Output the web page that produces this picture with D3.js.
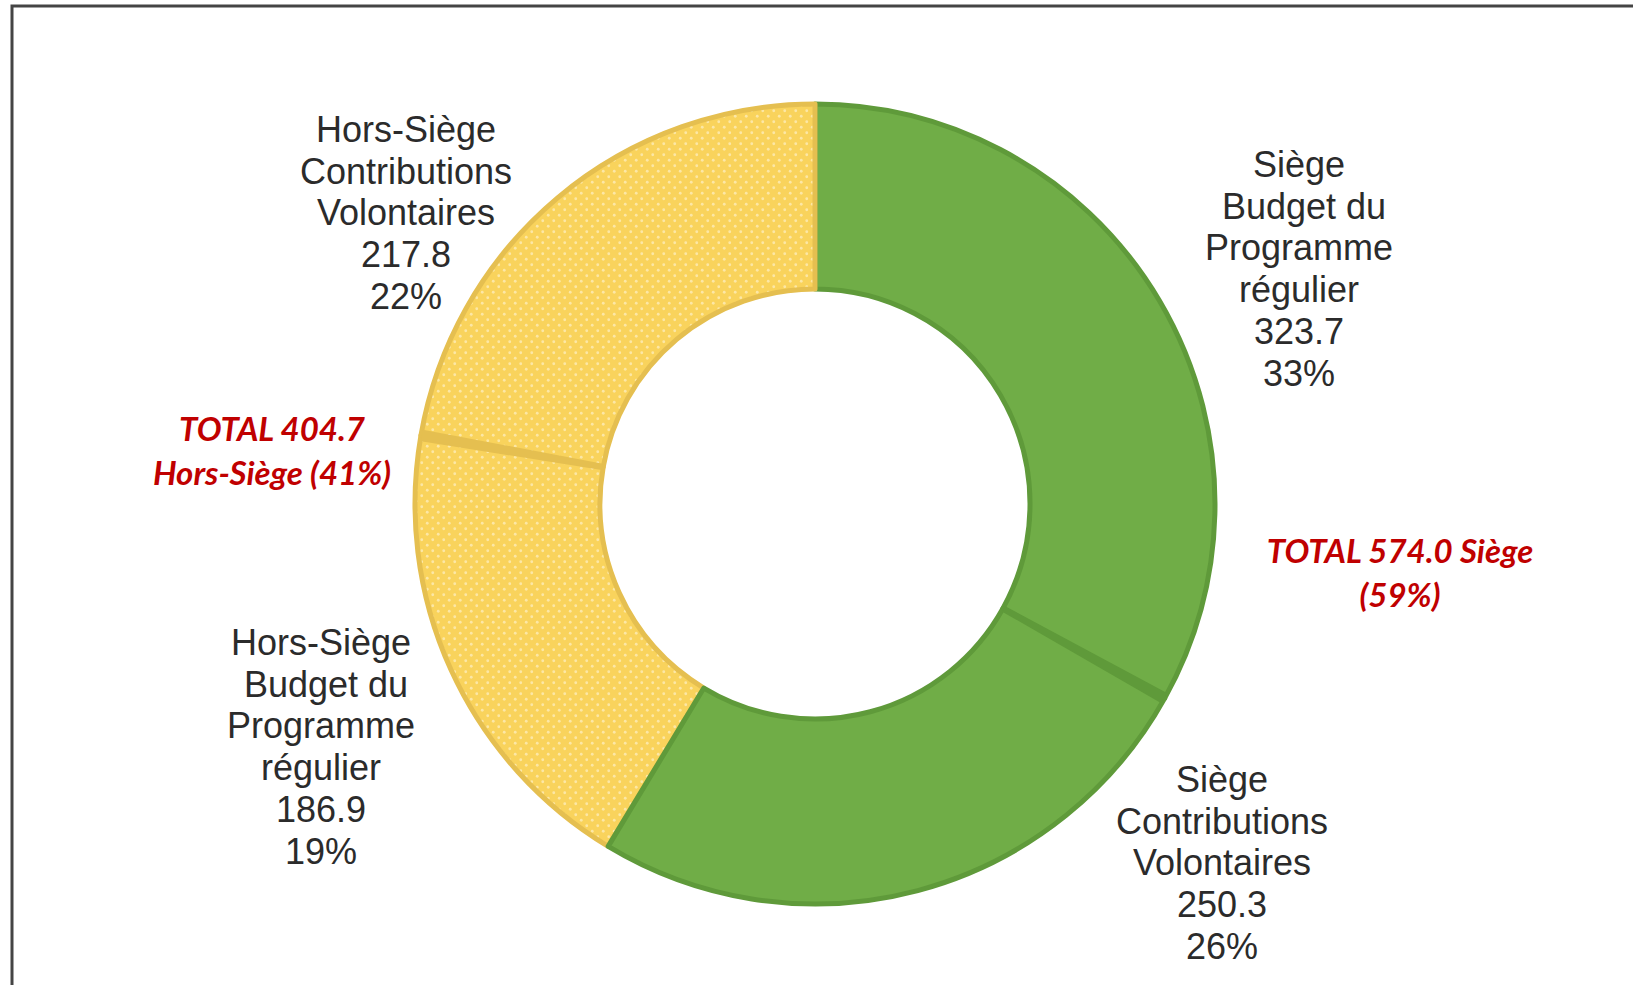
<!DOCTYPE html>
<html>
<head>
<meta charset="utf-8">
<script src="https://d3js.org/d3.v7.min.js"></script>
<style>
  body { margin: 0; background: #fff; }
  .label { font-family: "Liberation Sans", Arimo, Arial, sans-serif; font-size: 36px; fill: #2b2b2b; }
  .total { font-family: Lato, "Open Sans", sans-serif; font-size: 33px; font-weight: bold; font-style: italic; fill: #c00000; }
</style>
</head>
<body>
<div id="donut"></div>
<script>
// chart values
var segments = ["Siège Budget du Programme régulier", "Siège Contributions Volontaires",
                "Hors-Siège Budget du Programme régulier", "Hors-Siège Contributions Volontaires"];
var groups = ["Siège", "Siège", "Hors-Siège", "Hors-Siège"];
var values = [323.7, 250.3, 186.9, 217.8];
var percents = ["33%", "26%", "19%", "22%"];
var labelLines = [["Siège", " Budget du", "Programme", "régulier"],
                  ["Siège", "Contributions", "Volontaires"],
                  ["Hors-Siège", " Budget du", "Programme", "régulier"],
                  ["Hors-Siège", "Contributions", "Volontaires"]];
var totalLines = [["TOTAL 574.0 Siège", "(59%)"], ["TOTAL 404.7", "Hors-Siège (41%)"]];

// layout
var width = 1633, height = 985;
var cx = 815, cy = 504;
var outerR = 400, innerR = 215;
var lineH = 41.7;
var labelPos = [[1299, 177], [1222, 792], [321, 655], [406, 142]];
var totalPos = [[1400, 563], [272, 441]];
var drawOrder = [2, 0, 1, 3];

var fills = {"Siège": "#70ad47", "Hors-Siège": "#f9d35c"};
var edges = {"Siège": "#5f9a3a", "Hors-Siège": "#e5bf50"};

var svg = d3.select("#donut").append("svg")
            .attr("width", width)
            .attr("height", height);

// dotted texture for the yellow slices
var defs = svg.append("defs");
var pat = defs.append("pattern")
              .attr("id", "dots")
              .attr("patternUnits", "userSpaceOnUse")
              .attr("width", 11)
              .attr("height", 11);
pat.append("rect").attr("width", 11).attr("height", 11).attr("fill", fills["Hors-Siège"]);
pat.append("circle").attr("cx", 2.75).attr("cy", 2.75).attr("r", 1.4).attr("fill", "#fff").attr("opacity", 0.45);
pat.append("circle").attr("cx", 8.25).attr("cy", 8.25).attr("r", 1.4).attr("fill", "#fff").attr("opacity", 0.45);

// frame
svg.append("path")
   .attr("d", "M12," + height + "V6H" + width)
   .attr("fill", "none")
   .attr("stroke", "#444")
   .attr("stroke-width", 3);

var pie = d3.pie().sort(null).value(function(d) { return d; });
var arcs = pie(values);
var arc = d3.arc().innerRadius(innerR).outerRadius(outerR);

var g = svg.append("g").attr("transform", "translate(" + cx + "," + cy + ")");

g.selectAll("path.slice")
  .data(drawOrder.map(function(i) { return {i: i, a: arcs[i]}; }))
  .enter()
  .append("path")
  .attr("class", "slice")
  .attr("d", function(d) { return arc(d.a); })
  .attr("fill", function(d) { return groups[d.i] == "Siège" ? fills["Siège"] : "url(#dots)"; })
  .attr("stroke", function(d) { return edges[groups[d.i]]; })
  .attr("stroke-width", 5)
  .attr("stroke-linejoin", "round");

// darker band where two slices of the same group meet
var rMid = (innerR + outerR) / 2;
var sepArc = d3.arc().innerRadius(innerR + 1).outerRadius(outerR - 1);
g.selectAll("path.sep")
  .data(arcs.filter(function(d, i) { return i > 0 && groups[i] == groups[i - 1]; }))
  .enter()
  .append("path")
  .attr("class", "sep")
  .attr("d", function(d) {
    var a = d.startAngle;
    return sepArc({startAngle: a - 4.5 / rMid, endAngle: a + 4.5 / rMid});
  })
  .attr("fill", function(d) { return edges[groups[d.index]]; });

// slice labels
labelLines.forEach(function(lines, i) {
  var all = lines.concat([d3.format(".1f")(values[i]), percents[i]]);
  var t = svg.append("text")
             .attr("class", "label")
             .attr("text-anchor", "middle");
  t.selectAll("tspan")
   .data(all)
   .enter()
   .append("tspan")
   .attr("x", labelPos[i][0])
   .attr("y", function(d, j) { return labelPos[i][1] + j * lineH; })
   .style("white-space", "pre")
   .text(function(d) { return d; });
});

// group totals
totalLines.forEach(function(lines, i) {
  var t = svg.append("text")
             .attr("class", "total")
             .attr("text-anchor", "middle");
  t.selectAll("tspan")
   .data(lines)
   .enter()
   .append("tspan")
   .attr("x", totalPos[i][0])
   .attr("y", function(d, j) { return totalPos[i][1] + j * 44; })
   .text(function(d) { return d; });
});
</script>
</body>
</html>
